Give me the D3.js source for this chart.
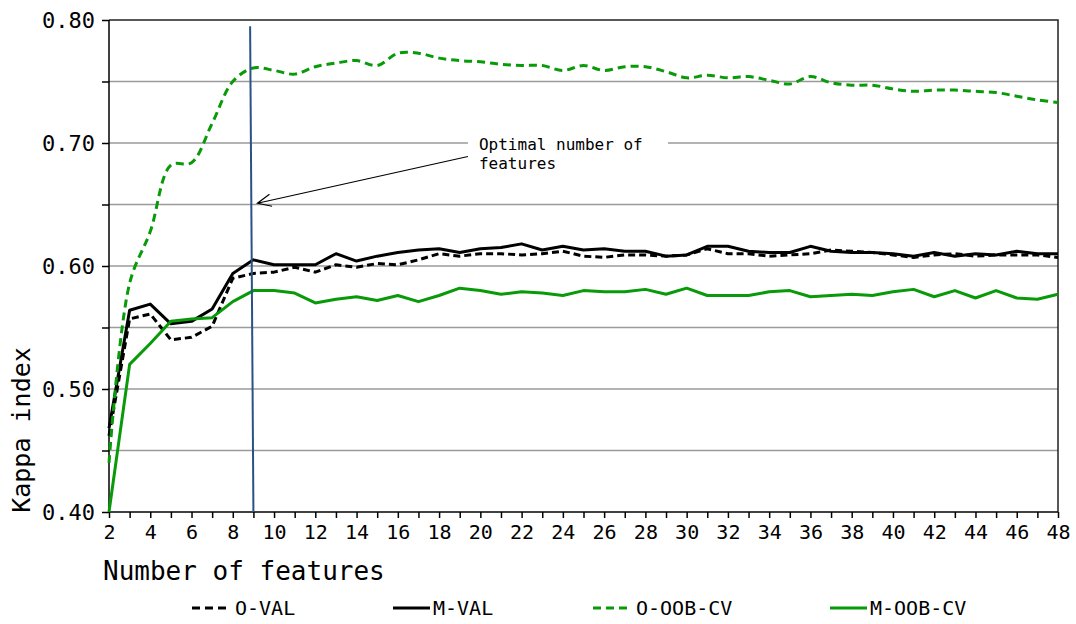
<!DOCTYPE html>
<html>
<head>
<meta charset="utf-8">
<script src="https://cdn.jsdelivr.net/npm/d3@7"></script>
<style>
  body { margin: 0; background: #fff; }
  svg text { font-family: "DejaVu Sans Mono", monospace; fill: #000; }
  .grid line { stroke: #9a9a9a; stroke-width: 1.5; }
  .axis path, .axis line { stroke: #000; stroke-width: 1.5; }
</style>
</head>
<body>
<div class="chart"></div>
<script>
// number of features, 2..48
const features = d3.range(2, 49)

const oVal = [0.462, 0.557, 0.561, 0.540, 0.542, 0.551, 0.590, 0.594, 0.595, 0.599,
  0.595, 0.601, 0.599, 0.602, 0.601, 0.605, 0.610, 0.608, 0.610, 0.610,
  0.609, 0.610, 0.612, 0.608, 0.607, 0.609, 0.609, 0.608, 0.609, 0.614,
  0.610, 0.610, 0.608, 0.609, 0.610, 0.613, 0.612, 0.611, 0.609, 0.607,
  0.609, 0.610, 0.608, 0.609, 0.609, 0.609, 0.607]

const mVal = [0.468, 0.564, 0.569, 0.553, 0.555, 0.565, 0.594, 0.605, 0.601, 0.601,
  0.601, 0.610, 0.604, 0.608, 0.611, 0.613, 0.614, 0.611, 0.614, 0.615,
  0.618, 0.613, 0.616, 0.613, 0.614, 0.612, 0.612, 0.608, 0.609, 0.616,
  0.616, 0.612, 0.611, 0.611, 0.616, 0.612, 0.611, 0.611, 0.610, 0.608,
  0.611, 0.608, 0.610, 0.609, 0.612, 0.610, 0.610]

const oOobCv = [0.440, 0.586, 0.628, 0.682, 0.684, 0.716, 0.750, 0.761, 0.759, 0.756,
  0.762, 0.765, 0.767, 0.763, 0.773, 0.773, 0.769, 0.767, 0.766, 0.764,
  0.763, 0.763, 0.759, 0.763, 0.759, 0.762, 0.762, 0.758, 0.753, 0.755,
  0.753, 0.754, 0.751, 0.748, 0.754, 0.749, 0.747, 0.747, 0.744, 0.742,
  0.743, 0.743, 0.742, 0.741, 0.738, 0.735, 0.733]

const mOobCv = [0.400, 0.520, 0.537, 0.555, 0.557, 0.558, 0.571, 0.580, 0.580, 0.578,
  0.570, 0.573, 0.575, 0.572, 0.576, 0.571, 0.576, 0.582, 0.580, 0.577,
  0.579, 0.578, 0.576, 0.580, 0.579, 0.579, 0.581, 0.577, 0.582, 0.576,
  0.576, 0.576, 0.579, 0.580, 0.575, 0.576, 0.577, 0.576, 0.579, 0.581,
  0.575, 0.580, 0.574, 0.580, 0.574, 0.573, 0.577]

const seriesNames = ["O-VAL", "M-VAL", "O-OOB-CV", "M-OOB-CV"]
const yTicks = [0.40, 0.45, 0.50, 0.55, 0.60, 0.65, 0.70, 0.75, 0.80]
const optimalFeatures = 9

const width = 1076
const height = 624
const margin = { top: 20, right: 18, bottom: 112, left: 109 }
const innerW = width - margin.left - margin.right
const innerH = height - margin.top - margin.bottom

const green = "#089a08"

const series = [
  { name: seriesNames[0], values: oVal, color: "#000", dash: "7,4", curve: d3.curveLinear },
  { name: seriesNames[1], values: mVal, color: "#000", dash: null, curve: d3.curveLinear },
  { name: seriesNames[2], values: oOobCv, color: green, dash: "8,5", curve: d3.curveCatmullRom.alpha(0.5) },
  { name: seriesNames[3], values: mOobCv, color: green, dash: null, curve: d3.curveLinear }
]

const svg = d3.select(".chart").append("svg")
  .attr("width", width)
  .attr("height", height)

const g = svg.append("g")
  .attr("transform", `translate(${margin.left},${margin.top})`)

const x = d3.scaleLinear().domain([2, 48]).range([0, innerW])
const y = d3.scaleLinear().domain([0.40, 0.80]).range([innerH, 0])

// horizontal grid
g.append("g")
  .attr("class", "grid")
  .selectAll("line")
  .data(yTicks.slice(1, -1))
  .join("line")
  .attr("x1", 0)
  .attr("x2", innerW)
  .attr("y1", d => y(d))
  .attr("y2", d => y(d))

// frame top / right
g.append("path")
  .attr("d", `M0,0 H${innerW} V${innerH}`)
  .attr("fill", "none")
  .attr("stroke", "#222")
  .attr("stroke-width", 1.5)

// y axis
const yAxis = d3.axisLeft(y)
  .tickValues(yTicks)
  .tickSize(7)
  .tickPadding(7)
  .tickFormat(d => (Math.round(d * 100) % 10 === 0) ? d3.format(".2f")(d) : "")

g.append("g")
  .attr("class", "axis")
  .call(yAxis)
  .call(a => a.select(".domain").attr("d", `M0,0V${innerH}`))
  .selectAll("text")
  .style("font-size", "22px")

// x axis
const xAxis = d3.axisBottom(x)
  .tickValues(features)
  .tickSize(6)
  .tickPadding(7)
  .tickFormat(d => d % 2 === 0 ? d : "")

g.append("g")
  .attr("class", "axis")
  .attr("transform", `translate(0,${innerH})`)
  .call(xAxis)
  .call(a => a.select(".domain").attr("d", `M0,0H${innerW}`))
  .selectAll("text")
  .style("font-size", "20px")

// series lines
series.forEach(function(s) {
  const line = d3.line()
    .x((d, i) => x(features[i]))
    .y(d => y(d))
    .curve(s.curve)

  g.append("path")
    .datum(s.values)
    .attr("fill", "none")
    .attr("stroke", s.color)
    .attr("stroke-width", 3)
    .attr("stroke-dasharray", s.dash)
    .attr("stroke-linejoin", "round")
    .attr("d", line)
})

// optimal number of features marker
g.append("line")
  .attr("x1", x(optimalFeatures - 0.16))
  .attr("y1", y(0.795))
  .attr("x2", x(optimalFeatures))
  .attr("y2", y(0.40))
  .attr("stroke", "#2b5286")
  .attr("stroke-width", 2)

// annotation
const tail = [x(19.4), y(0.689)]
const tip = [x(optimalFeatures) + 4, y(0.651)]
const ang = Math.atan2(tail[1] - tip[1], tail[0] - tip[0])
const head = 15, spread = 0.42

g.append("path")
  .attr("d", `M${tail[0]},${tail[1]} L${tip[0]},${tip[1]}` +
    ` M${tip[0] + head * Math.cos(ang - spread)},${tip[1] + head * Math.sin(ang - spread)}` +
    ` L${tip[0]},${tip[1]}` +
    ` L${tip[0] + head * Math.cos(ang + spread)},${tip[1] + head * Math.sin(ang + spread)}`)
  .attr("fill", "none")
  .attr("stroke", "#000")
  .attr("stroke-width", 1.2)

g.append("rect")
  .attr("x", x(19.4))
  .attr("y", y(0.7) - 8)
  .attr("width", 200)
  .attr("height", 40)
  .attr("fill", "#fff")

const note = g.append("text")
  .attr("x", x(19.4) + 11)
  .attr("y", y(0.7) + 7)
  .style("font-size", "16px")

note.append("tspan").text("Optimal number of")
note.append("tspan")
  .attr("x", x(19.4) + 11)
  .attr("dy", "1.2em")
  .text("features")

// axis titles
svg.append("text")
  .attr("x", 103)
  .attr("y", 580)
  .style("font-size", "26px")
  .text("Number of features")

svg.append("text")
  .attr("transform", "translate(30,430) rotate(-90)")
  .attr("text-anchor", "middle")
  .style("font-size", "25px")
  .text("Kappa index")

// legend
const legendX = [192, 393, 593, 830]
const legend = svg.append("g")

series.forEach(function(s, i) {
  const lg = legend.append("g")
    .attr("transform", `translate(${legendX[i]},608)`)

  lg.append("line")
    .attr("x1", 0)
    .attr("x2", 37)
    .attr("y1", 0)
    .attr("y2", 0)
    .attr("stroke", s.color)
    .attr("stroke-width", 3)
    .attr("stroke-dasharray", s.dash ? "8,5" : null)

  lg.append("text")
    .attr("x", s.dash ? 43 : 40)
    .attr("y", 7)
    .style("font-size", "20px")
    .text(s.name)
})
</script>
</body>
</html>
